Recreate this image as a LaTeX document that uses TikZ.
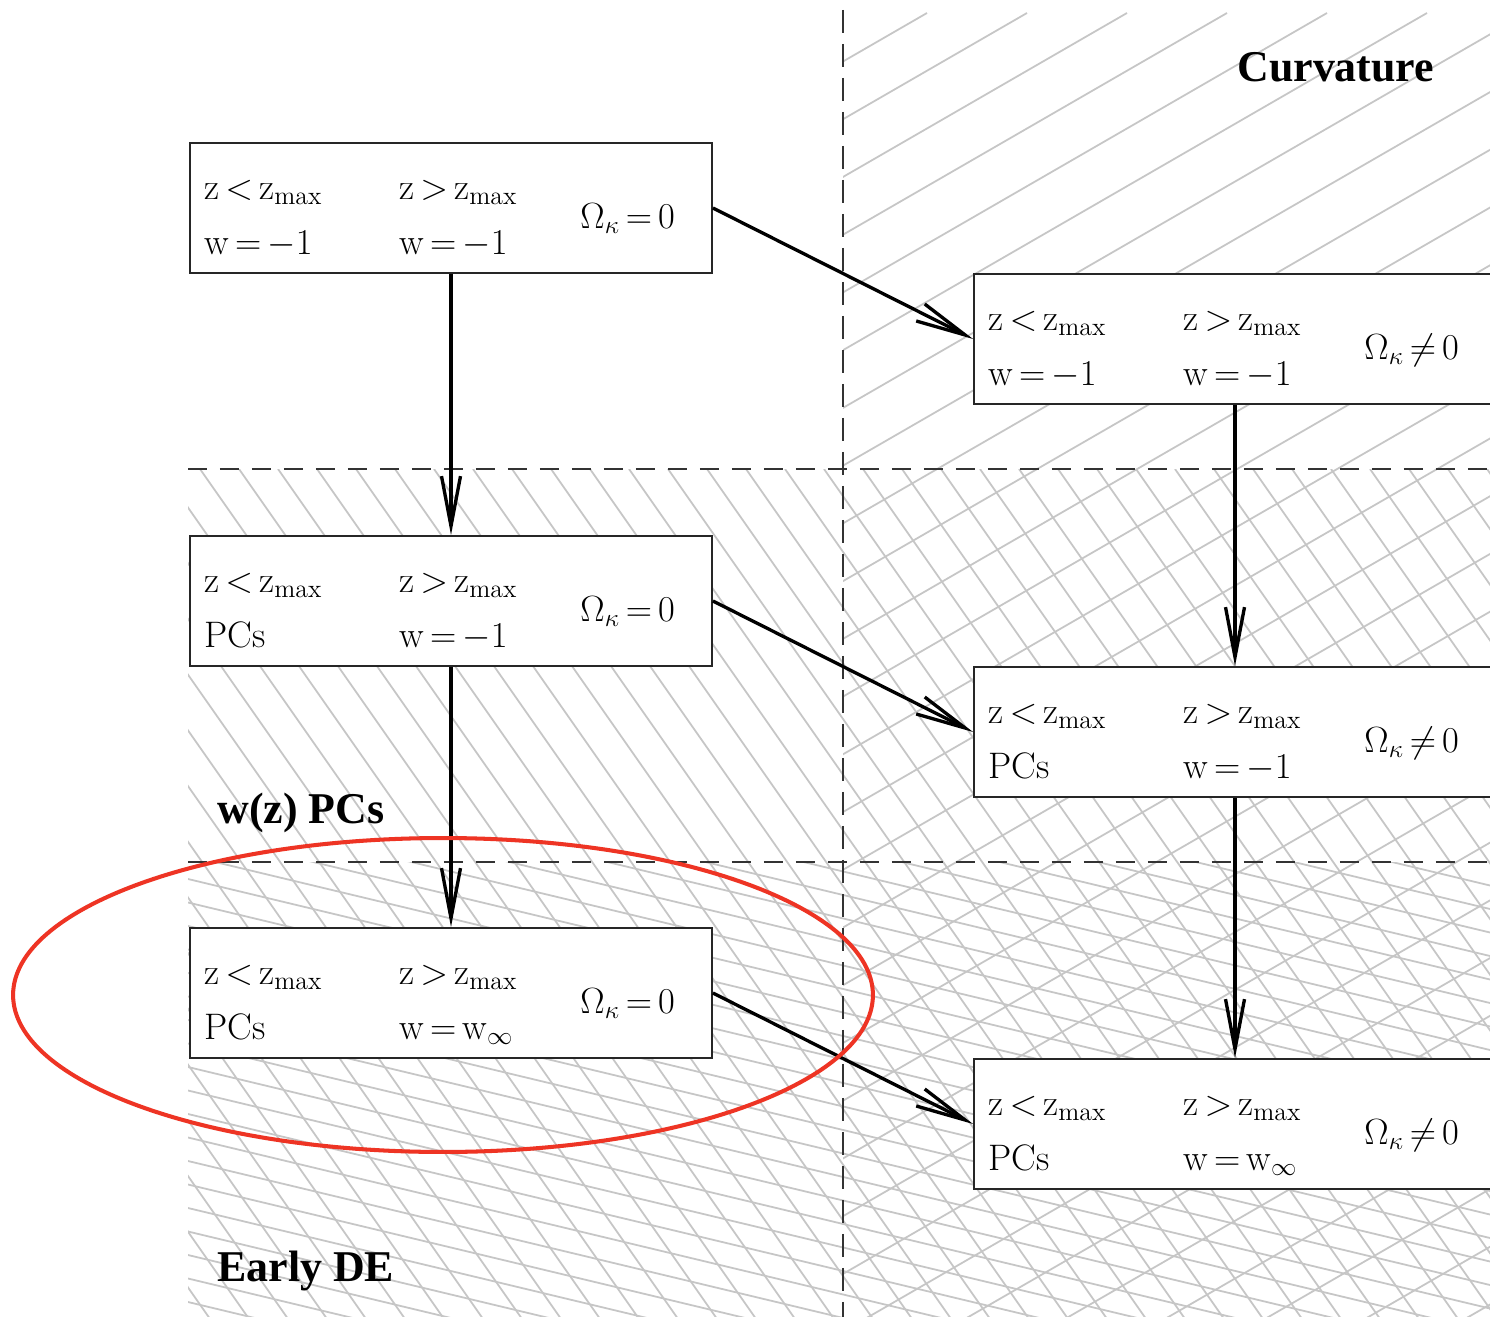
\documentclass[tikz,border=0pt]{standalone}
\usepackage{fontspec}
\newfontfamily\labelfont{Liberation Serif}
\usetikzlibrary{arrows.meta,calc,shapes.geometric}

\definecolor{ringred}{RGB}{238,52,36}
\definecolor{hatchgray}{RGB}{198,198,198}

% one unit = one pixel of a 1490 x 1317 canvas, y growing downwards
\tikzset{
  stagebox/.style={draw=black!85, line width=1.1pt, fill=white,
    minimum width=10.44cm, minimum height=2.6cm, inner sep=0pt},
  txt/.style={anchor=base west, inner sep=0pt, font=\fontsize{21}{25}\selectfont},
  flow/.style={line width=1.9pt, -{Straight Barb[length=1cm,width=0.38cm]}},
  region/.style={line width=1.5pt, draw=black!80, dash pattern=on 0.38cm off 0.26cm},
  hatch/.style={draw=hatchgray, line width=1pt},
  tag/.style={anchor=base west, inner sep=0pt,
    font=\labelfont\bfseries\fontsize{25}{30}\selectfont},
  ring/.style={draw=ringred, line width=2.3pt, ellipse, inner sep=0pt,
    minimum width=17.2cm, minimum height=6.28cm},
}

% box entries, with tighter spacing around relations
\newcommand{\tightrel}{\thickmuskip=3mu plus 1mu\relax}
\newcommand{\zlt}{$\tightrel\mathrm{z}<\mathrm{z}_{\mathrm{max}}$}
\newcommand{\zgt}{$\tightrel\mathrm{z}>\mathrm{z}_{\mathrm{max}}$}
\newcommand{\wm}{$\tightrel\mathrm{w}=-1$}
\newcommand{\winf}{$\tightrel\mathrm{w}=\mathrm{w}_\infty$}
\newcommand{\okz}{$\tightrel\Omega_\kappa=0$}
\newcommand{\okn}{$\tightrel\Omega_\kappa\neq0$}

% a model box: name, centre, low-z lines, high-z lines, curvature entry
\newcommand{\stagenode}[7]{%
  \node[stagebox] (#1) at #2 {};
  \node[txt] (#1-lo1) at ($(#1.north west)+(15,57)$) {#3};
  \node[txt] (#1-lo2) at ($(#1.north west)+(15,112)$) {#4};
  \node[txt] (#1-hi1) at ($(#1.north west)+(210,57)$) {#5};
  \node[txt] (#1-hi2) at ($(#1.north west)+(210,112)$) {#6};
  \node[txt] (#1-k) at ($(#1.north west)+(391,86)$) {#7};
}

\begin{document}
\begin{tikzpicture}[x=0.02cm, y=-0.02cm]
\useasboundingbox (0,0) rectangle (1490,1317);
\clip (0,0) rectangle (1490,1317);
\fill[white] (0,0) rectangle (1490,1317);

% curvature band: rising hatch
\begin{scope}
  \clip (843,13) rectangle (1490,1317);
  \foreach \k in {-1,...,29}
    \draw[hatch] (927+100*\k,13) -- (927+100*\k-2400,1398.6);
\end{scope}

% w(z) PCs band: steep falling hatch
\begin{scope}
  \clip (188,469) rectangle (1490,1317);
  \foreach \k in {-16,...,34}
    \draw[hatch] (200+39*\k,469) -- (800+39*\k,1326);
\end{scope}

% early dark energy band: shallow falling hatch
\begin{scope}
  \clip (188,862) rectangle (1490,1317);
  \foreach \k in {0,...,34}
    \draw[hatch] (188,550+23.5*\k) -- (1490,862+23.5*\k);
\end{scope}

% band borders
\draw[region] (188,469) -- (1490,469);
\draw[region] (188,862) -- (1490,862);
\draw[region, dash pattern=on 0.46cm off 0.22cm] (843,10) -- (843,1317);

% model boxes
\stagenode{A}{(451,208)}{\zlt}{\wm}{\zgt}{\wm}{\okz}
\stagenode{B}{(1235,339)}{\zlt}{\wm}{\zgt}{\wm}{\okn}
\stagenode{C}{(451,601)}{\zlt}{PCs}{\zgt}{\wm}{\okz}
\stagenode{D}{(1235,732)}{\zlt}{PCs}{\zgt}{\wm}{\okn}
\stagenode{E}{(451,993)}{\zlt}{PCs}{\zgt}{\winf}{\okz}
\stagenode{F}{(1235,1124)}{\zlt}{PCs}{\zgt}{\winf}{\okn}

% extensions
\draw[flow] (A.south) -- (C.north);
\draw[flow] (C.south) -- (E.north);
\draw[flow] (B.south) -- (D.north);
\draw[flow] (D.south) -- (F.north);
\draw[flow] (A.east) -- (B.west);
\draw[flow] (C.east) -- (D.west);
\draw[flow] (E.east) -- (F.west);

% band names
\node[tag] (curv) at (1237,82) {Curvature};
\node[tag] (pcs) at (217,823) {w(z) PCs};
\node[tag] (early) at (217,1281) {Early DE};

% highlight
\node[ring] (ring) at (443,995) {};
\end{tikzpicture}
\end{document}
